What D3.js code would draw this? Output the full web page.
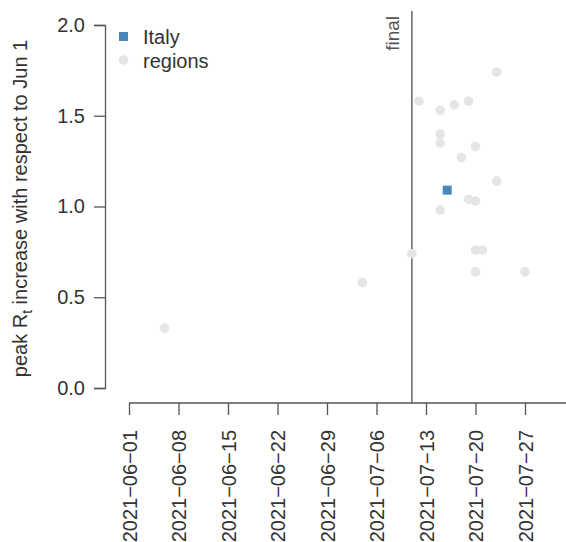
<!DOCTYPE html>
<html>
<head>
<meta charset="utf-8">
<script src="https://cdn.jsdelivr.net/npm/d3@7"></script>
<style>
  html, body { margin: 0; padding: 0; background: #fff; }
  svg text { font-family: "Liberation Sans", Arial, sans-serif; }
</style>
</head>
<body>
<svg id="chart" width="566" height="542"></svg>
<script>
// ---- data ----
const regionDates = ["2021-06-06","2021-07-04","2021-07-11","2021-07-12","2021-07-15","2021-07-17","2021-07-19",
  "2021-07-15","2021-07-15","2021-07-20","2021-07-18","2021-07-23","2021-07-23","2021-07-19","2021-07-20",
  "2021-07-15","2021-07-20","2021-07-21","2021-07-20","2021-07-27"];
const regionValues = [0.33,0.58,0.74,1.58,1.53,1.56,1.58,
  1.40,1.35,1.33,1.27,1.74,1.14,1.04,1.03,
  0.98,0.76,0.76,0.64,0.64];
const italyDate = ["2021-07-16"];
const italyValue = [1.09];
const finalDate = "2021-07-11";
const yTicks = [0, 0.5, 1.0, 1.5, 2.0];
const xTickLabels = ["2021-06-01","2021-06-08","2021-06-15","2021-06-22","2021-06-29","2021-07-06","2021-07-13","2021-07-20","2021-07-27"];
const legendLabels = ["Italy", "regions"];

const parse = d3.utcParse("%Y-%m-%d");
const svg = d3.select("#chart");
const axisColor = "#555";
const textColor = "#333";
const fs = "20px";

const x = d3.scaleUtc()
  .domain([parse("2021-06-01"), parse("2021-07-27")])
  .range([129, 525]);
const y = d3.scaleLinear().domain([0, 2]).range([388, 25]);

// Y axis
const yAxis = svg.append("g").attr("transform", "translate(105,0)")
  .call(d3.axisLeft(y).tickValues(yTicks).tickFormat(d3.format(".1f")).tickSizeOuter(0).tickSize(11).tickPadding(9));
yAxis.select(".domain").attr("stroke", axisColor).attr("stroke-width", 1.3);
yAxis.selectAll(".tick line").attr("stroke", axisColor).attr("stroke-width", 1.3);
yAxis.selectAll(".tick text").attr("fill", textColor).style("font-size", fs);

// X axis
const xAxis = svg.append("g").attr("transform", "translate(0,403)")
  .call(d3.axisBottom(x).tickValues(xTickLabels.map(parse)).tickFormat(d3.utcFormat("%Y\u2212%m\u2212%d")).tickSizeOuter(0).tickSize(12));
xAxis.select(".domain").attr("d", `M${x.range()[0]},0H566`).attr("stroke", axisColor).attr("stroke-width", 1.3);
xAxis.selectAll(".tick line").attr("stroke", axisColor).attr("stroke-width", 1.3);
xAxis.selectAll(".tick text")
  .attr("fill", textColor).style("font-size", fs)
  .attr("transform", "rotate(-90)")
  .attr("text-anchor", "end")
  .attr("x", -27).attr("y", 0).attr("dy", "0.35em");

// Y title
const yt = svg.append("text")
  .attr("transform", `translate(27,${(y(0)+y(2))/2 + 2}) rotate(-90)`)
  .attr("text-anchor", "middle").attr("fill", textColor).style("font-size", fs);
yt.append("tspan").text("peak R");
yt.append("tspan").attr("dy", 5).style("font-size", "14px").text("t");
yt.append("tspan").attr("dy", -5).text(" increase with respect to Jun 1");

// final line
const fx = x(parse(finalDate));
svg.append("line").attr("x1", fx).attr("x2", fx).attr("y1", 11).attr("y2", 403)
  .attr("stroke", "#666").attr("stroke-width", 1.5);
svg.append("text")
  .attr("transform", `translate(${fx - 13},16) rotate(-90)`)
  .attr("text-anchor", "end").attr("fill", "#555").style("font-size", "19px")
  .text("final");

// regions
svg.append("g").selectAll("circle")
  .data(regionDates.map((d, i) => ({ d: parse(d), v: regionValues[i] })))
  .join("circle")
  .attr("cx", d => x(d.d)).attr("cy", d => y(d.v)).attr("r", 4.8)
  .attr("fill", "#e5e5e5");

// Italy
svg.append("g").selectAll("rect")
  .data(italyDate.map((d, i) => ({ d: parse(d), v: italyValue[i] })))
  .join("rect")
  .attr("x", d => x(d.d) - 4.5).attr("y", d => y(d.v) - 4.5)
  .attr("width", 9).attr("height", 9).attr("fill", "#4a87bd");

// legend
const lg = svg.append("g");
lg.append("rect").attr("x", 119).attr("y", 32).attr("width", 9).attr("height", 9).attr("fill", "#4a87bd");
lg.append("circle").attr("cx", 123.5).attr("cy", 60).attr("r", 4.8).attr("fill", "#e5e5e5");
lg.selectAll("text").data(legendLabels).join("text")
  .attr("x", 143).attr("y", (d, i) => 37 + i * 24).attr("dy", "0.35em")
  .attr("fill", textColor).style("font-size", fs).text(d => d);
</script>
</body>
</html>
